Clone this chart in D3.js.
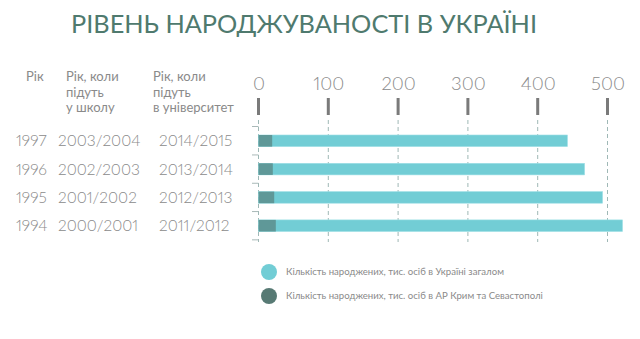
<!DOCTYPE html>
<html><head><meta charset="utf-8">
<script src="https://cdn.jsdelivr.net/npm/d3@7"></script>
<style>body{margin:0;background:#fff}svg{display:block}text{font-family:Lato,"Open Sans",sans-serif}.pn{font-variant-numeric:proportional-nums;font-feature-settings:"pnum" 1}</style>
</head><body>
<svg id="c" width="640" height="339"></svg>
<script>
const years = ["1997","1996","1995","1994"];
const schoolYears = ["2003/2004","2002/2003","2001/2002","2000/2001"];
const uniYears = ["2014/2015","2013/2014","2012/2013","2011/2012"];
const ukraineBirths = [442.6, 467.2, 492.9, 521.5];
const crimeaBirths = [19.6, 20.5, 22.5, 24.8];
const xTicks = [0,100,200,300,400,500];
const headers = [["Рік"],["Рік, коли","підуть","у школу"],["Рік, коли","підуть","в університет"]];
const legendLabels = ["Кількість народжених, тис. осіб в Україні загалом","Кількість народжених, тис. осіб в АР Крим та Севастополі"];
const colors = ["#72cdd5","#577a74"];

const svg = d3.select("#c");
const x = d3.scaleLinear().domain([0,500]).range([258.5,607.5]);
const y = d3.scaleBand().domain(years).range([126.5,240]).paddingInner(0.59).paddingOuter(0.3);

svg.append("text").attr("x",71).attr("y",33).attr("fill","#4f7a6e")
  .attr("font-size",25.5).attr("textLength",466).attr("lengthAdjust","spacingAndGlyphs")
  .text("РІВЕНЬ НАРОДЖУВАНОСТІ В УКРАЇНІ");

// headers
const hx=[26,66,153];
headers.forEach((h,i)=>{
  h.forEach((line,j)=>{
    svg.append("text").attr("x",hx[i]).attr("y",81+j*15.7).attr("fill","#8a8a8a").attr("font-size",13).attr("textLength",null).text(line);
  });
});

// gridlines
svg.append("g").selectAll("line").data(xTicks).join("line")
  .attr("x1",d=>x(d)).attr("x2",d=>x(d)).attr("y1",120).attr("y2",242)
  .attr("stroke","#9fb8b6").attr("stroke-width",1).attr("stroke-dasharray","4,3");

// top axis labels and thick ticks
const ax = svg.append("g").attr("transform","translate(0,89.5)").call(d3.axisTop(x).tickValues(xTicks).tickSize(0).tickPadding(0));
ax.select(".domain").remove();
ax.selectAll("text").attr("font-size",18.5).attr("fill","#8a8a8a").attr("font-weight",300).attr("font-family","Lato, sans-serif").attr("class","pn");
svg.append("g").selectAll("rect").data(xTicks).join("rect")
  .attr("x",d=>x(d)-1.5).attr("y",98).attr("width",3).attr("height",17).attr("fill","#7a7a7a");

// left band ticks
const bounds = [126.5].concat(years.map(d=>y(d)+y.bandwidth()+ (y.step()*y.paddingInner())/2));
svg.append("g").selectAll("line").data(bounds).join("line")
  .attr("x1",252).attr("x2",258.5).attr("y1",d=>d).attr("y2",d=>d)
  .attr("stroke","#a9b9b8").attr("stroke-width",1);

// bars
svg.append("g").selectAll("rect").data(years).join("rect")
  .attr("x",x(0)).attr("y",d=>y(d)).attr("height",y.bandwidth())
  .attr("width",(d,i)=>x(ukraineBirths[i])-x(0)).attr("fill",colors[0]).attr("stroke","#9fe0e6").attr("stroke-width",0.6);
svg.append("g").selectAll("rect").data(years).join("rect")
  .attr("x",x(0)).attr("y",d=>y(d)).attr("height",y.bandwidth())
  .attr("width",(d,i)=>x(crimeaBirths[i])-x(0)).attr("fill","#5f9898");

// row labels
const rowCols=[[years,16],[schoolYears,58],[uniYears,159]];
rowCols.forEach(([arr,cx])=>{
  svg.append("g").selectAll("text").data(arr).join("text")
    .attr("class","pn")
    .attr("x",cx).attr("y",(d,i)=>y(years[i])+y.bandwidth()/2).attr("dy","0.36em")
    .attr("font-size",15.5).attr("fill","#8a8a8a").attr("font-weight",300).text(d=>d);
});

// legend
legendLabels.forEach((l,i)=>{
  const cy=272+i*24;
  svg.append("circle").attr("cx",269).attr("cy",cy).attr("r",8).attr("fill",colors[i]);
  svg.append("text").attr("x",286).attr("y",cy).attr("dy","0.35em").attr("font-size",9.6).attr("fill","#8a8a8a").text(l);
});
</script>
</body></html>
